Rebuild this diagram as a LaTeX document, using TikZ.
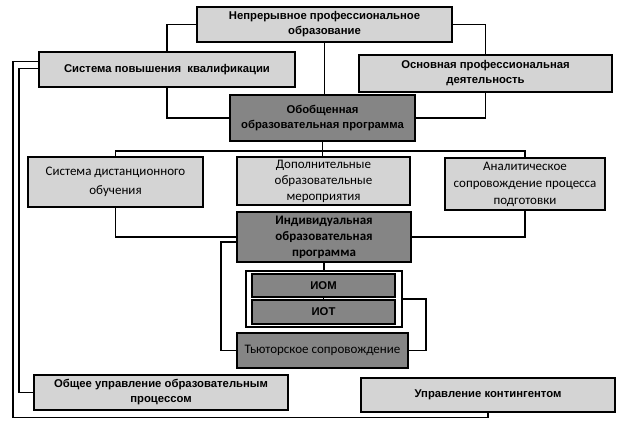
\documentclass[tikz,border=0pt]{standalone}
\usepackage{fontspec}
\setmainfont{Liberation Sans}
\newfontfamily\calib{Carlito}
\usetikzlibrary{calc}
\definecolor{lightbox}{HTML}{D4D4D4}
\definecolor{darkbox}{HTML}{858585}
\tikzset{
  boxbase/.style={draw=black, line width=1.5pt, align=center, inner sep=1pt},
  lbox/.style={boxbase, fill=lightbox, font=\fontsize{11.3}{15}\selectfont\bfseries},
  cbox/.style={boxbase, fill=lightbox, font=\fontsize{13}{19}\selectfont\calib},
  dbox/.style={boxbase, fill=darkbox, font=\fontsize{11.3}{15}\selectfont\bfseries},
  dcbox/.style={boxbase, fill=darkbox, font=\fontsize{13}{16}\selectfont\calib\bfseries},
  frame/.style={draw=black, line width=1.5pt, fill=white},
  conn/.style={draw=black, line width=1.8pt}
}
\begin{document}
\begin{tikzpicture}[x=1pt,y=-1pt]
\useasboundingbox (0,0) rectangle (623,420);
% nodes
\node[lbox, minimum width=255pt, minimum height=35pt] (top) at (324.5,24.5) {Непрерывное профессиональное\\образование};
\node[lbox, minimum width=256pt, minimum height=35pt] (spk) at (167,69.5) {Система повышения\ \ квалификации};
\node[lbox, minimum width=253pt, minimum height=37pt] (opd) at (485.5,73.5) {Основная профессиональная\\деятельность};
\node[dbox, minimum width=185pt, minimum height=46pt] (obob) at (322.5,118) {Обобщенная\\образовательная программа};
\node[cbox, minimum width=175pt, minimum height=50pt] (sdo) at (115.5,182) {Система дистанционного\\обучения};
\node[cbox, minimum width=173pt, minimum height=48pt, font=\fontsize{13}{16}\selectfont\calib] (dop) at (323.5,181) {Дополнительные\\образовательные\\мероприятия};
\node[cbox, minimum width=160pt, minimum height=52pt, font=\fontsize{13}{17}\selectfont\calib] (anal) at (525,184) {Аналитическое\\сопровождение процесса\\подготовки};
\node[dcbox, minimum width=174pt, minimum height=50pt] (ind) at (324,237) {Индивидуальная\\образовательная\\программа};
\node[frame, minimum width=156pt, minimum height=56pt] (outer) at (324,299) {};
\node[dbox, minimum width=143pt, minimum height=23pt] (iom) at (323.5,285.5) {ИОМ};
\node[dbox, minimum width=143pt, minimum height=24pt] (iot) at (323.5,312) {ИОТ};
\node[dcbox, minimum width=171pt, minimum height=35pt, font=\fontsize{13}{16}\selectfont\calib] (tut) at (322.5,350.5) {Тьюторское сопровождение};
\node[lbox, minimum width=254pt, minimum height=35pt] (oup) at (161,392.5) {Общее управление образовательным\\процессом};
\node[lbox, minimum width=254pt, minimum height=34pt] (uk) at (488,395) {Управление контингентом};
\coordinate (bus) at ($(obob.south)+(0,9)$);
% connectors
\draw[conn] (top.west) -| (spk.north);
\draw[conn] (spk.south) |- (obob.west);
\draw[conn] (top.east) -| (opd.north);
\draw[conn] (opd.south) |- (obob.east);
\draw[conn] (top.south) -- (top.south |- obob.north);
\draw[conn] (obob.south) -- (obob.south |- dop.north);
\draw[conn] (sdo.north) |- (bus) -| (anal.north);
\draw[conn] (sdo.south) |- (ind.west);
\draw[conn] (anal.south) |- (ind.east);
\draw[conn] ([yshift=-5pt]ind.west) -- ++(-15,0) |- (tut.west);
\draw[conn] (ind.south) -- (outer.north);
\draw[conn] (iom.south) -- (iot.north);
\draw[conn] (outer.east) -- ++(23,0) |- (tut.east);
\draw[conn] ([yshift=8pt]spk.west) -- ++(-25,0) -- ++(0,356) -| (uk.south);
\draw[conn] ([yshift=1pt]spk.west) -- ++(-19,0) |- (oup.west);
\end{tikzpicture}
\end{document}
